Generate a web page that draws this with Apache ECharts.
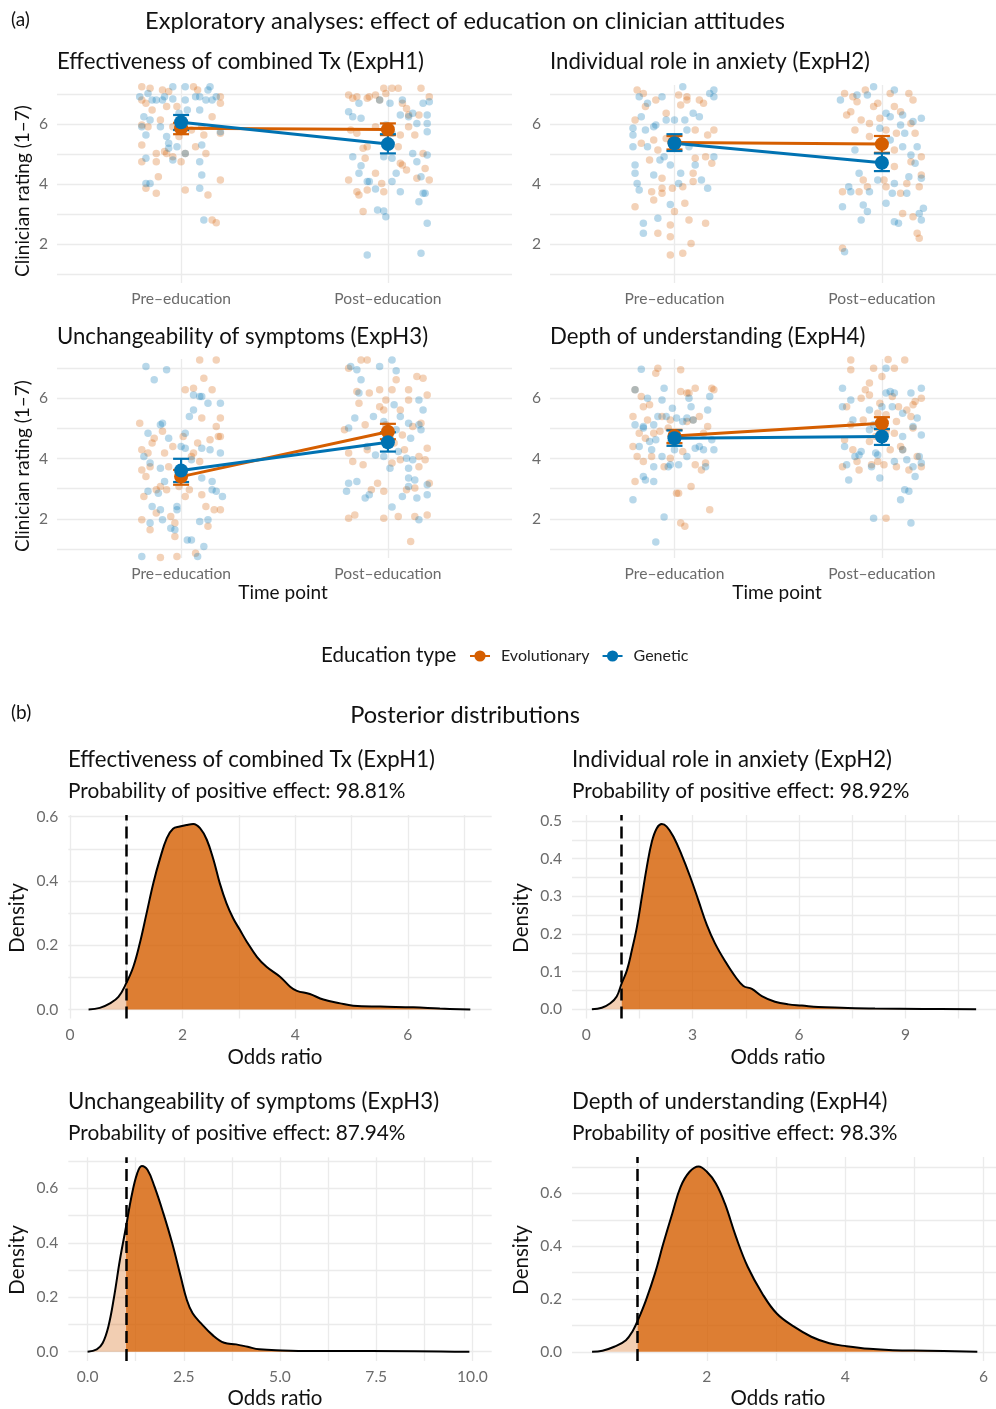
<!DOCTYPE html>
<html><head><meta charset="utf-8">
<script src="https://cdn.jsdelivr.net/npm/echarts@6.0.0/dist/echarts.min.js"></script>
<style>html,body{margin:0;padding:0;background:#fff}#c{width:996px;height:1409px}</style>
</head><body><div id="c"></div><script>
// ---------- DATA ----------
const CATEGORIES = ['Pre\u2013education', 'Post\u2013education'];
const GROUPS = ['Evolutionary', 'Genetic'];
const TITLE_A = 'Exploratory analyses: effect of education on clinician attitudes';
const TITLE_B = 'Posterior distributions';
const PANEL_TITLES = ['Effectiveness of combined Tx (ExpH1)', 'Individual role in anxiety (ExpH2)', 'Unchangeability of symptoms (ExpH3)', 'Depth of understanding (ExpH4)'];
const PROB_POSITIVE = ['98.81%', '98.92%', '87.94%', '98.3%'];

// jittered ratings: [horizontal jitter from category, rating]
const h1PreEvo = [[-0.19,5.30],[-0.19,4.74],[-0.17,3.86],[-0.12,3.69],[-0.11,4.24],[-0.12,4.74],[-0.08,5.08],[-0.07,5.02],[-0.04,4.91],[0.00,4.74],[0.02,5.02],[0.02,3.80],[0.07,5.24],[0.11,5.63],[0.10,5.91],[0.12,5.02],[0.13,3.63],[0.15,2.80],[0.17,2.71],[0.19,5.69],[0.19,4.13],[0.19,6.91],[0.19,6.69],[-0.19,6.80],[-0.17,6.69],[-0.16,5.91],[-0.19,5.97],[-0.14,6.47],[-0.10,6.13],[-0.07,6.58],[-0.06,7.08],[-0.02,6.58],[-0.01,5.58],[0.05,5.80],[0.06,7.24],[0.08,7.13],[0.15,6.24],[-0.15,7.19],[-0.09,7.13],[-0.04,5.91],[-0.12,5.02],[-0.19,7.24]];
const h1PreGen = [[-0.20,6.91],[-0.18,6.24],[-0.19,5.91],[-0.17,5.63],[-0.15,6.13],[-0.17,4.86],[-0.17,4.02],[-0.15,4.02],[-0.12,6.80],[-0.09,6.80],[-0.08,6.91],[-0.04,6.83],[-0.06,5.36],[-0.06,5.19],[-0.04,4.80],[-0.02,5.24],[0.02,5.02],[0.02,6.80],[0.07,6.91],[0.09,6.91],[0.10,5.30],[0.09,4.74],[0.10,4.30],[0.09,3.86],[0.11,2.80],[0.13,7.13],[0.12,6.80],[0.15,6.80],[0.03,6.47],[-0.01,6.36],[-0.14,6.80],[-0.10,5.91],[-0.07,5.58],[0.19,5.74],[0.17,6.91],[-0.16,7.02],[0.09,6.47],[0.02,7.24],[0.14,7.24],[-0.04,7.24]];
const h1PostEvo = [[-0.19,6.97],[-0.17,6.86],[-0.18,5.80],[-0.15,6.91],[-0.15,5.69],[-0.12,5.19],[-0.11,4.86],[-0.10,6.86],[-0.09,6.91],[-0.06,6.97],[-0.04,6.80],[-0.02,7.19],[-0.01,7.02],[0.02,7.19],[0.05,7.19],[0.07,6.69],[0.09,6.52],[0.10,6.30],[0.13,5.63],[0.05,5.24],[0.06,4.69],[0.07,4.63],[0.09,4.47],[-0.03,4.02],[-0.02,3.74],[-0.10,3.80],[-0.15,3.74],[-0.14,3.63],[-0.12,3.08],[-0.19,4.13],[0.17,5.02],[0.18,4.52],[0.14,4.19],[0.20,4.13],[0.10,5.91],[0.15,6.30],[0.20,6.91],[0.16,7.19],[0.06,5.63],[-0.06,4.36],[-0.10,5.24],[-0.06,5.91]];
const h1PostGen = [[-0.19,6.41],[-0.17,6.24],[-0.13,6.19],[-0.17,4.91],[-0.13,4.61],[-0.14,4.36],[-0.10,4.08],[-0.09,4.08],[-0.06,3.83],[-0.05,3.13],[-0.02,3.10],[-0.01,2.91],[-0.10,1.63],[-0.02,4.91],[-0.01,5.97],[0.02,5.69],[0.02,4.86],[0.02,4.08],[0.04,4.36],[0.06,3.74],[0.10,6.24],[0.12,6.36],[0.14,6.02],[0.12,5.02],[0.14,4.74],[0.16,4.24],[0.17,3.69],[0.18,3.69],[0.15,3.41],[0.19,2.69],[0.16,1.69],[0.19,4.97],[0.19,6.02],[0.19,5.74],[0.19,6.30],[0.17,6.69],[0.20,6.74],[-0.14,6.69],[-0.04,6.80],[0.01,6.69],[0.07,6.80],[0.06,6.30]];

const h2PreEvo = [[-0.19,6.13],[-0.19,3.24],[-0.18,7.13],[-0.16,5.36],[-0.15,7.02],[-0.14,6.58],[-0.12,4.80],[-0.11,3.74],[-0.10,5.47],[-0.09,6.80],[-0.08,2.36],[-0.06,4.19],[-0.06,3.86],[-0.06,3.69],[-0.04,6.36],[-0.02,2.63],[-0.02,2.24],[-0.01,3.86],[0.00,3.08],[0.02,6.97],[0.03,6.63],[0.04,3.91],[0.05,3.36],[0.06,6.80],[0.06,6.91],[0.07,2.80],[0.08,2.02],[0.09,4.36],[0.09,4.08],[0.10,4.86],[0.12,6.80],[0.14,6.69],[0.15,2.69],[0.15,4.91],[0.16,5.63],[0.18,4.69],[0.19,5.80],[0.04,1.69],[-0.02,1.63],[-0.08,5.13],[-0.04,5.52],[0.10,5.80],[-0.10,3.47]];
const h2PreGen = [[-0.20,5.86],[-0.20,5.63],[-0.20,5.24],[-0.19,4.63],[-0.19,4.36],[-0.18,4.02],[-0.17,3.80],[-0.15,2.69],[-0.15,2.36],[-0.14,5.80],[-0.13,6.69],[-0.10,4.30],[-0.10,5.91],[-0.09,5.97],[-0.07,4.80],[-0.06,6.91],[-0.08,2.86],[-0.05,4.91],[-0.04,6.13],[-0.02,4.63],[-0.02,3.32],[0.00,6.13],[0.02,4.02],[0.03,4.36],[0.05,6.13],[0.06,5.80],[0.09,6.36],[0.10,4.63],[0.12,6.24],[0.13,4.13],[0.16,3.86],[0.17,7.02],[0.19,7.13],[0.19,6.91],[0.19,4.91],[0.07,5.24],[0.04,7.24],[-0.17,6.91],[-0.16,6.24],[-0.13,5.24]];
const h2PostEvo = [[-0.19,1.86],[-0.19,3.74],[-0.18,7.02],[-0.17,6.30],[-0.15,6.41],[-0.14,6.91],[-0.12,6.74],[-0.11,3.74],[-0.13,5.80],[-0.10,6.13],[-0.09,4.13],[-0.08,7.13],[-0.06,6.02],[-0.06,5.58],[-0.04,6.58],[-0.02,6.69],[-0.01,6.19],[0.01,4.13],[0.02,3.91],[0.02,5.80],[0.04,7.02],[0.06,6.58],[0.06,5.13],[0.07,5.69],[0.09,6.41],[0.10,3.02],[0.12,4.02],[0.13,7.02],[0.14,6.02],[0.15,2.91],[0.15,6.80],[0.16,5.69],[0.17,2.36],[0.18,2.19],[0.18,3.91],[0.19,4.30],[0.19,4.91],[0.06,4.58],[0.00,5.47],[0.14,4.74],[0.09,3.69],[-0.07,3.91]];
const h2PostGen = [[-0.20,6.80],[-0.19,3.24],[-0.18,1.74],[-0.16,3.91],[-0.15,3.74],[-0.13,5.13],[-0.12,6.97],[-0.11,4.36],[-0.10,2.80],[-0.09,3.30],[-0.07,3.08],[-0.07,6.97],[-0.06,3.74],[-0.04,7.24],[-0.02,4.13],[-0.01,5.86],[0.02,3.36],[0.02,6.36],[0.04,6.24],[0.05,3.69],[0.06,2.74],[0.06,4.02],[0.08,2.69],[0.09,5.97],[0.10,6.30],[0.11,5.69],[0.12,3.69],[0.13,4.24],[0.14,4.97],[0.15,6.08],[0.16,4.69],[0.17,5.24],[0.18,3.02],[0.19,6.19],[0.19,2.80],[0.19,4.19],[0.20,3.19],[0.06,7.13],[0.04,5.47],[0.10,5.24]];

const h3PreEvo = [[-0.20,5.17],[-0.19,4.29],[-0.19,1.97],[-0.19,3.62],[-0.18,2.74],[-0.17,3.40],[-0.16,4.18],[-0.15,1.64],[-0.15,3.73],[-0.14,4.51],[-0.13,4.67],[-0.12,2.19],[-0.12,2.96],[-0.10,3.07],[-0.09,4.90],[-0.08,4.18],[-0.07,2.96],[-0.06,3.73],[-0.05,2.08],[-0.04,4.40],[-0.03,1.86],[-0.03,1.41],[-0.02,0.75],[-0.01,3.07],[0.01,4.73],[0.02,6.28],[0.02,2.74],[0.04,2.96],[0.05,4.07],[0.06,6.33],[0.06,4.18],[0.07,0.86],[0.08,4.51],[0.09,3.90],[0.10,2.80],[0.10,5.34],[0.11,6.66],[0.12,2.41],[0.13,1.75],[0.14,4.62],[0.15,6.28],[0.16,2.30],[0.17,5.06],[0.18,4.73],[0.19,2.30],[0.19,5.34],[0.19,4.73],[0.09,7.27],[0.17,7.27],[-0.10,0.72]];
const h3PreGen = [[-0.19,0.75],[-0.18,4.07],[-0.17,7.05],[-0.16,4.84],[-0.16,2.91],[-0.15,1.86],[-0.14,2.41],[-0.13,6.61],[-0.11,2.85],[-0.10,3.68],[-0.10,5.12],[-0.09,5.17],[-0.09,1.97],[-0.08,3.24],[-0.06,4.67],[-0.07,6.94],[-0.05,1.69],[-0.03,1.64],[-0.02,2.30],[-0.02,2.41],[0.00,4.40],[0.02,4.84],[0.02,4.34],[0.03,1.30],[0.04,5.39],[0.05,1.30],[0.05,3.96],[0.06,6.11],[0.06,5.61],[0.08,0.75],[0.09,1.91],[0.09,6.06],[0.10,3.35],[0.10,4.34],[0.10,6.06],[0.11,1.08],[0.13,5.83],[0.13,1.97],[0.14,4.29],[0.15,3.24],[0.15,2.96],[0.17,2.91],[0.19,4.18],[0.19,5.83],[0.20,2.74],[-0.15,3.85],[-0.10,2.30]];
const h3PostEvo = [[-0.21,4.95],[-0.19,4.18],[-0.19,2.02],[-0.19,6.99],[-0.17,3.90],[-0.16,2.13],[-0.15,6.22],[-0.14,5.83],[-0.12,3.79],[-0.11,5.12],[-0.10,4.29],[-0.10,7.27],[-0.09,6.17],[-0.08,2.96],[-0.05,3.18],[-0.04,6.28],[-0.04,5.72],[-0.02,5.61],[-0.02,2.91],[-0.02,2.02],[-0.01,5.94],[0.01,4.73],[0.02,3.85],[0.02,6.28],[0.03,4.51],[0.04,6.61],[0.05,2.08],[0.06,5.61],[0.07,4.78],[0.08,4.29],[0.09,2.96],[0.10,6.28],[0.10,5.94],[0.11,1.25],[0.12,5.06],[0.13,2.08],[0.14,6.72],[0.15,4.07],[0.15,3.73],[0.16,5.17],[0.17,6.66],[0.18,3.96],[0.19,6.11],[0.19,2.13],[0.19,4.34],[0.20,3.18],[0.13,3.02],[-0.13,7.27],[0.06,3.96],[-0.01,5.12]];
const h3PostGen = [[-0.19,3.18],[-0.20,2.91],[-0.19,5.01],[-0.16,5.34],[-0.15,3.24],[-0.15,6.94],[-0.14,6.17],[-0.11,2.69],[-0.10,4.40],[-0.09,2.80],[-0.07,5.39],[-0.06,4.12],[-0.04,7.05],[-0.02,4.07],[-0.02,5.23],[0.01,3.68],[0.02,2.39],[0.03,5.78],[0.04,6.91],[0.04,4.95],[0.05,4.23],[0.07,2.74],[0.09,4.01],[0.10,3.07],[0.10,3.68],[0.10,3.35],[0.11,4.67],[0.13,3.29],[0.14,2.69],[0.15,1.97],[0.15,5.94],[0.15,5.12],[0.16,4.95],[0.17,5.61],[0.19,3.13],[0.19,2.80],[-0.18,7.05],[-0.13,6.61],[0.02,7.27],[0.06,5.39],[0.10,5.17],[0.12,3.96]];

const h4PreEvo = [[-0.20,5.39],[-0.20,4.40],[-0.19,6.28],[-0.19,3.24],[-0.18,4.07],[-0.17,4.84],[-0.16,6.06],[-0.15,3.90],[-0.15,5.72],[-0.14,4.67],[-0.13,5.28],[-0.12,5.78],[-0.11,4.07],[-0.10,4.84],[-0.09,6.83],[-0.08,6.99],[-0.07,4.90],[-0.06,5.39],[-0.05,3.73],[-0.03,5.01],[-0.02,5.28],[-0.02,4.51],[0.00,4.56],[0.01,2.85],[0.02,2.85],[0.03,6.22],[0.03,6.94],[0.04,4.23],[0.05,1.75],[0.06,5.23],[0.06,6.17],[0.07,6.17],[0.08,3.07],[0.09,5.28],[0.10,3.79],[0.10,6.33],[0.12,5.39],[0.13,3.62],[0.14,4.84],[0.15,3.85],[0.16,5.06],[0.17,2.30],[0.18,6.33],[0.19,6.28],[0.03,1.86],[-0.02,4.01]];
const h4PreGen = [[-0.20,2.63],[-0.19,5.12],[-0.19,6.28],[-0.16,6.96],[-0.15,3.40],[-0.15,5.01],[-0.14,3.29],[-0.13,6.00],[-0.12,4.56],[-0.11,4.29],[-0.10,3.73],[-0.10,3.24],[-0.10,5.12],[-0.09,1.23],[-0.08,5.39],[-0.06,4.07],[-0.06,5.94],[-0.05,2.06],[-0.05,6.33],[-0.04,5.39],[-0.03,3.73],[-0.02,3.79],[-0.01,5.67],[0.00,4.29],[0.01,5.34],[0.02,3.79],[0.04,5.23],[0.06,5.34],[0.06,4.07],[0.07,6.00],[0.08,5.72],[0.09,5.28],[0.10,4.34],[0.12,4.40],[0.14,4.29],[0.15,3.73],[0.16,5.61],[0.17,6.06],[0.19,4.29],[0.18,4.62],[-0.17,4.40],[-0.15,5.06],[-0.09,4.62]];
const h4PostEvo = [[-0.19,3.73],[-0.18,4.62],[-0.17,5.72],[-0.15,6.94],[-0.15,5.12],[-0.14,4.29],[-0.12,3.90],[-0.11,3.62],[-0.10,6.00],[-0.09,5.28],[-0.08,6.28],[-0.06,6.11],[-0.06,4.56],[-0.05,3.79],[-0.04,6.99],[-0.03,4.73],[-0.02,5.50],[-0.02,3.90],[-0.01,5.83],[0.00,6.72],[0.01,3.79],[0.02,5.45],[0.02,2.02],[0.03,7.28],[0.04,4.29],[0.05,6.06],[0.06,4.84],[0.06,6.99],[0.07,3.73],[0.08,5.72],[0.09,4.40],[0.10,4.29],[0.11,7.27],[0.12,5.61],[0.13,3.62],[0.14,5.39],[0.15,5.78],[0.15,5.01],[0.16,5.89],[0.17,4.07],[0.19,3.73],[0.19,6.00],[-0.15,7.27],[-0.06,6.50],[0.07,5.23],[0.02,4.90]];
const h4PostGen = [[-0.19,6.33],[-0.19,5.72],[-0.18,4.40],[-0.17,3.79],[-0.16,3.29],[-0.15,5.94],[-0.14,5.28],[-0.13,4.07],[-0.11,4.12],[-0.10,4.23],[-0.06,5.61],[-0.06,4.95],[-0.05,3.73],[-0.04,5.12],[-0.03,4.18],[-0.02,4.12],[-0.01,3.35],[0.00,5.72],[0.02,6.17],[0.02,6.99],[0.05,5.72],[0.06,6.17],[0.06,3.90],[0.09,2.63],[0.10,4.73],[0.10,4.29],[0.11,2.96],[0.12,3.96],[0.13,2.91],[0.14,1.86],[0.14,6.17],[0.15,3.73],[0.15,5.06],[0.16,3.40],[0.17,5.34],[0.18,4.07],[0.19,4.78],[0.19,3.85],[0.19,6.33],[-0.04,2.02],[0.04,6.22],[0.10,5.50]];

// group means with interval: [pre [mean, low, high], post [mean, low, high]]
const h1EvoMean = [[5.86,5.66,6.04],[5.82,5.63,6.02]];
const h1GenMean = [[6.06,5.80,6.30],[5.33,5.02,5.66]];
const h2EvoMean = [[5.38,5.15,5.60],[5.33,5.04,5.60]];
const h2GenMean = [[5.36,5.10,5.66],[4.71,4.43,5.02]];
const h3EvoMean = [[3.40,3.13,3.62],[4.89,4.64,5.15]];
const h3GenMean = [[3.60,3.22,3.99],[4.54,4.23,4.87]];
const h4EvoMean = [[4.75,4.51,4.95],[5.17,4.97,5.37]];
const h4GenMean = [[4.67,4.42,4.93],[4.73,4.45,4.98]];

// posterior densities of odds ratio: [odds ratio, density]
const b1Curve = [[0.33,0],[0.53,0.005],[0.71,0.019],[0.86,0.039],[1.0,0.082],[1.125,0.133],[1.24,0.206],[1.36,0.299],[1.48,0.393],[1.60,0.470],[1.72,0.533],[1.83,0.562],[1.95,0.569],[2.07,0.574],[2.19,0.577],[2.31,0.564],[2.43,0.528],[2.55,0.465],[2.66,0.393],[2.78,0.330],[2.90,0.283],[3.02,0.247],[3.14,0.211],[3.32,0.164],[3.49,0.133],[3.73,0.102],[3.91,0.071],[4.03,0.058],[4.26,0.048],[4.50,0.031],[4.80,0.019],[5.03,0.012],[5.51,0.009],[6.10,0.007],[6.57,0.003],[7.11,0]];
const b2Curve = [[0.16,0],[0.44,0.004],[0.68,0.016],[0.86,0.034],[1.0,0.069],[1.15,0.104],[1.29,0.158],[1.43,0.219],[1.57,0.299],[1.71,0.379],[1.85,0.445],[1.99,0.481],[2.13,0.492],[2.27,0.485],[2.46,0.458],[2.69,0.410],[2.93,0.352],[3.16,0.290],[3.40,0.224],[3.63,0.175],[3.92,0.127],[4.20,0.087],[4.43,0.062],[4.67,0.054],[4.95,0.035],[5.32,0.020],[5.70,0.013],[6.08,0.010],[6.54,0.006],[7.20,0.004],[8.14,0.002],[9.50,0.001],[10.99,0]];
const b3Curve = [[0,0],[0.24,0.009],[0.39,0.031],[0.54,0.092],[0.69,0.202],[0.84,0.337],[1.0,0.459],[1.14,0.569],[1.29,0.655],[1.41,0.682],[1.56,0.667],[1.74,0.606],[1.97,0.508],[2.20,0.398],[2.42,0.276],[2.58,0.190],[2.73,0.141],[2.95,0.104],[3.25,0.061],[3.55,0.033],[3.86,0.027],[4.16,0.018],[4.46,0.009],[5.06,0.005],[5.82,0.003],[7.33,0.003],[9.92,0]];
const b4Curve = [[0.34,0],[0.49,0.004],[0.66,0.019],[0.83,0.044],[0.93,0.080],[1.0,0.118],[1.12,0.196],[1.25,0.297],[1.37,0.410],[1.50,0.524],[1.62,0.625],[1.75,0.682],[1.88,0.702],[2.00,0.682],[2.13,0.638],[2.26,0.562],[2.42,0.436],[2.59,0.322],[2.80,0.221],[3.01,0.145],[3.26,0.095],[3.51,0.057],[3.77,0.032],[4.02,0.021],[4.35,0.011],[4.69,0.006],[5.19,0.004],[5.91,0]];
const NULL_OR = 1;

// axis tick values (b)
const B_X_GRID = [[0,1,2,3,4,5,6,7],[0,1.5,3,4.5,6,7.5,9,10.5],[0,1.25,2.5,3.75,5,6.25,7.5,8.75,10],[1,2,3,4,5,6]];
const B_X_LABELS = [[0,2,4,6],[0,3,6,9],[0,2.5,5,7.5,10],[2,4,6]];
const B_Y_GRID = [[0,0.1,0.2,0.3,0.4,0.5,0.6],[0,0.05,0.1,0.15,0.2,0.25,0.3,0.35,0.4,0.45,0.5],[0,0.1,0.2,0.3,0.4,0.5,0.6,0.7],[0,0.1,0.2,0.3,0.4,0.5,0.6,0.7]];
const B_Y_LABELS = [[0,0.2,0.4,0.6],[0,0.1,0.2,0.3,0.4,0.5],[0,0.2,0.4,0.6],[0,0.2,0.4,0.6]];
const B_X_RANGE = [[-0.03,7.49],[-0.4,11.55],[-0.5,10.5],[0.05,6.18]];
const B_Y_RANGE = [[-0.028,0.605],[-0.0245,0.516],[-0.034,0.714],[-0.035,0.738]];
const A_Y_GRID = [1,2,3,4,5,6,7];
const A_Y_LABELS = [2,4,6];

// ---------- STYLE / LAYOUT ----------
const FF = 'Lato, "Noto Sans", sans-serif';
const COLORS = {Evolutionary:'#D55E00', Genetic:'#0072B2'};
const GRID_COLOR = '#EBEBEB';
const TICK_COLOR = '#6b6b6b';
// right-hand panels are cut by the page edge: same scale, shorter visible range
const A_GRIDS = [{left:57,top:85,width:455,height:198},{left:550,top:85,width:446,height:198},{left:57,top:359,width:455,height:199},{left:550,top:359,width:446,height:199}];
const A_X_MAX = [2.6, 2.55, 2.6, 2.55];
const B_GRIDS = [{left:68.3,top:815,width:423.4,height:203.5},{left:572,top:815,width:424,height:203.5},{left:68.3,top:1157.3,width:423.4,height:203.7},{left:572,top:1157,width:424,height:204}];

const PANELS_A = [
  {pre:{Evolutionary:h1PreEvo, Genetic:h1PreGen}, post:{Evolutionary:h1PostEvo, Genetic:h1PostGen}, mean:{Evolutionary:h1EvoMean, Genetic:h1GenMean}},
  {pre:{Evolutionary:h2PreEvo, Genetic:h2PreGen}, post:{Evolutionary:h2PostEvo, Genetic:h2PostGen}, mean:{Evolutionary:h2EvoMean, Genetic:h2GenMean}},
  {pre:{Evolutionary:h3PreEvo, Genetic:h3PreGen}, post:{Evolutionary:h3PostEvo, Genetic:h3PostGen}, mean:{Evolutionary:h3EvoMean, Genetic:h3GenMean}},
  {pre:{Evolutionary:h4PreEvo, Genetic:h4PreGen}, post:{Evolutionary:h4PostEvo, Genetic:h4PostGen}, mean:{Evolutionary:h4EvoMean, Genetic:h4GenMean}}
];
const CURVES = [b1Curve, b2Curve, b3Curve, b4Curve];

const grid = [], xAxis = [], yAxis = [], series = [];
const splitLine = {show:true, lineStyle:{color:GRID_COLOR, width:1.3}};
const TICK_FONT = 15.6;

PANELS_A.forEach((p, i) => {
  grid.push(Object.assign({containLabel:false}, A_GRIDS[i]));
  xAxis.push({type:'value', gridIndex:i, min:0.4, max:A_X_MAX[i],
    axisLine:{show:false}, axisTick:{show:false, customValues:[1,2]},
    axisLabel:{customValues:[1,2], formatter:v => CATEGORIES[Math.round(v)-1], color:TICK_COLOR, fontSize:TICK_FONT, fontFamily:FF, margin:8},
    splitLine});
  yAxis.push({type:'value', gridIndex:i, min:0.7, max:7.3,
    axisLine:{show:false}, axisTick:{show:false, customValues:A_Y_GRID},
    axisLabel:{customValues:A_Y_LABELS, color:TICK_COLOR, fontSize:TICK_FONT, fontFamily:FF, margin:9},
    splitLine});
  GROUPS.forEach(g => {
    const pts = p.pre[g].map(d => [1 + d[0], d[1]]).concat(p.post[g].map(d => [2 + d[0], d[1]]));
    series.push({type:'scatter', name:g + ' ratings', xAxisIndex:i, yAxisIndex:i, data:pts, symbolSize:7.5,
      itemStyle:{color:COLORS[g], opacity:0.28}, silent:true, clip:true, z:2});
  });
  GROUPS.forEach(g => {
    const m = p.mean[g];
    series.push({type:'custom', name:g + ' interval', xAxisIndex:i, yAxisIndex:i,
      data:[[1, m[0][1], m[0][2]], [2, m[1][1], m[1][2]]], encode:{x:0, y:[1,2]},
      itemStyle:{color:COLORS[g]}, silent:true, z:3,
      renderItem:(params, api) => {
        const x = api.value(0);
        const lo = api.coord([x, api.value(1)]), hi = api.coord([x, api.value(2)]);
        const w = 8, st = {stroke:COLORS[g], lineWidth:2.2, fill:null};
        return {type:'group', children:[
          {type:'line', shape:{x1:lo[0], y1:lo[1], x2:hi[0], y2:hi[1]}, style:st},
          {type:'line', shape:{x1:lo[0]-w, y1:lo[1], x2:lo[0]+w, y2:lo[1]}, style:st},
          {type:'line', shape:{x1:hi[0]-w, y1:hi[1], x2:hi[0]+w, y2:hi[1]}, style:st}
        ]};
      }});
    series.push({type:'line', name:g, xAxisIndex:i, yAxisIndex:i,
      data:[[1, m[0][0]], [2, m[1][0]]], symbol:'circle', symbolSize:14, showSymbol:true,
      lineStyle:{color:COLORS[g], width:3}, itemStyle:{color:COLORS[g]}, silent:true, z:4});
  });
});

CURVES.forEach((c, k) => {
  const i = 4 + k;
  grid.push(Object.assign({containLabel:false}, B_GRIDS[k]));
  const fmtX = k === 2 ? (v => v.toFixed(1)) : (v => String(Math.round(v)));
  xAxis.push({type:'value', gridIndex:i, min:B_X_RANGE[k][0], max:B_X_RANGE[k][1],
    axisLine:{show:false}, axisTick:{show:false, customValues:B_X_GRID[k]},
    axisLabel:{customValues:B_X_LABELS[k], formatter:fmtX, color:TICK_COLOR, fontSize:TICK_FONT, fontFamily:FF, margin:8},
    splitLine});
  yAxis.push({type:'value', gridIndex:i, min:B_Y_RANGE[k][0], max:B_Y_RANGE[k][1],
    axisLine:{show:false}, axisTick:{show:false, customValues:B_Y_GRID[k]},
    axisLabel:{customValues:B_Y_LABELS[k], formatter:v => v.toFixed(1), color:TICK_COLOR, fontSize:TICK_FONT, fontFamily:FF, margin:10},
    splitLine});
  const below = c.filter(d => d[0] <= NULL_OR), above = c.filter(d => d[0] >= NULL_OR);
  const SM = 0.4;
  series.push({type:'line', xAxisIndex:i, yAxisIndex:i, data:below, smooth:SM, symbol:'none',
    lineStyle:{width:0}, areaStyle:{color:'#D55E00', opacity:0.3}, silent:true, z:2});
  series.push({type:'line', xAxisIndex:i, yAxisIndex:i, data:above, smooth:SM, symbol:'none',
    lineStyle:{width:0}, areaStyle:{color:'#D55E00', opacity:0.8}, silent:true, z:2});
  series.push({type:'line', xAxisIndex:i, yAxisIndex:i, data:c, smooth:SM, symbol:'none',
    lineStyle:{color:'#000', width:2}, silent:true, z:3,
    markLine:{silent:true, symbol:'none', label:{show:false},
      lineStyle:{color:'#000', type:[12,6], width:2.5}, data:[{xAxis:NULL_OR}]}});
});

// ---------- TEXT ----------
function txt(s, x, y, size, align, color, rot) {
  return {type:'text', x, y, rotation:rot || 0, silent:true, z:10,
    style:{text:s, font:size + 'px ' + FF, fill:color || '#111',
      textAlign:align, align:align, textVerticalAlign:'middle', verticalAlign:'middle'}};
}
const R = Math.PI / 2;
const MAIN = 23.6, PT = 22.2, SUB = 20.8, AX = 19, AXB = 20.5;
const graphic = [
  txt('(a)', 11, 20, 19, 'left'),
  txt(TITLE_A, 465, 21, MAIN, 'center'),
  txt(PANEL_TITLES[0], 57, 62, PT, 'left'),
  txt(PANEL_TITLES[1], 550, 62, PT, 'left'),
  txt(PANEL_TITLES[2], 57, 337, PT, 'left'),
  txt(PANEL_TITLES[3], 550, 337, PT, 'left'),
  txt('Clinician rating (1\u20137)', 23, 191, AX, 'center', '#111', R),
  txt('Clinician rating (1\u20137)', 23, 466, AX, 'center', '#111', R),
  txt('Time point', 283, 593, AX, 'center'),
  txt('Time point', 777, 593, AX, 'center'),
  txt('Education type', 321, 655, 20.5, 'left'),
  txt('(b)', 11, 713, 19, 'left'),
  txt(TITLE_B, 465, 715, MAIN, 'center'),
  txt(PANEL_TITLES[0], 68, 760, PT, 'left'),
  txt('Probability of positive effect: ' + PROB_POSITIVE[0], 68, 791, SUB, 'left'),
  txt(PANEL_TITLES[1], 572, 760, PT, 'left'),
  txt('Probability of positive effect: ' + PROB_POSITIVE[1], 572, 791, SUB, 'left'),
  txt(PANEL_TITLES[2], 68, 1102, PT, 'left'),
  txt('Probability of positive effect: ' + PROB_POSITIVE[2], 68, 1133, SUB, 'left'),
  txt(PANEL_TITLES[3], 572, 1102, PT, 'left'),
  txt('Probability of positive effect: ' + PROB_POSITIVE[3], 572, 1133, SUB, 'left'),
  txt('Density', 17, 918, AXB, 'center', '#111', R),
  txt('Density', 521, 918, AXB, 'center', '#111', R),
  txt('Density', 17, 1260, AXB, 'center', '#111', R),
  txt('Density', 521, 1260, AXB, 'center', '#111', R),
  txt('Odds ratio', 275, 1057, AXB, 'center'),
  txt('Odds ratio', 778, 1057, AXB, 'center'),
  txt('Odds ratio', 275, 1398, AXB, 'center'),
  txt('Odds ratio', 778, 1398, AXB, 'center')
];

const chart = echarts.init(document.getElementById('c'), null, {renderer:'canvas', width:996, height:1409});
chart.setOption({
  animation:false, backgroundColor:'#fff',
  textStyle:{fontFamily:FF},
  legend:{data:GROUPS, left:469, top:648, itemWidth:20, itemHeight:14, itemGap:12, selectedMode:false, padding:0,
    textStyle:{fontSize:16, color:'#222', fontFamily:FF, padding:[0,0,0,6]}},
  grid, xAxis, yAxis, series, graphic
});
</script></body></html>
